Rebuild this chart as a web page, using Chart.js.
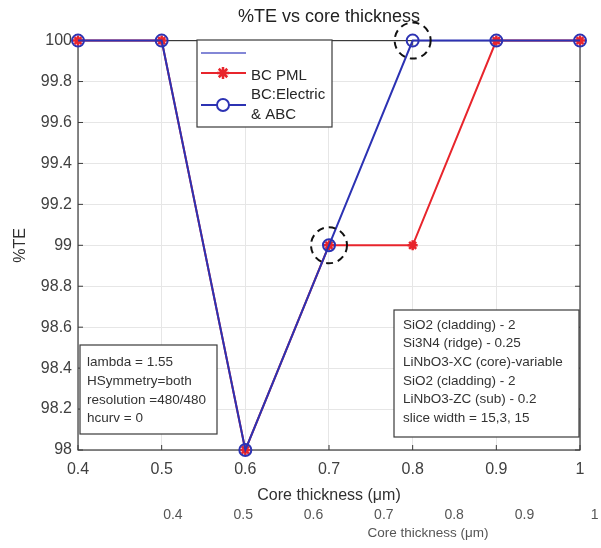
<!DOCTYPE html>
<html>
<head>
<meta charset="utf-8">
<script src="https://cdn.jsdelivr.net/npm/chart.js@4.4.0/dist/chart.umd.min.js"></script>
<style>
  html, body { margin: 0; padding: 0; background: #fff; }
  #wrap { position: relative; width: 601px; height: 548px; }
</style>
</head>
<body>
<div id="wrap"><canvas id="te-chart" width="601" height="548"></canvas></div>
<script>
// values
var thickness = [0.4, 0.5, 0.6, 0.7, 0.8, 0.9, 1.0];
var tePML = [100, 100, 98, 99, 99, 100, 100];
var teElectric = [100, 100, 98, 99, 100, 100, 100];

var xTicks = [0.4, 0.5, 0.6, 0.7, 0.8, 0.9, 1.0];
var yTicks = [98, 98.2, 98.4, 98.6, 98.8, 99, 99.2, 99.4, 99.6, 99.8, 100];
// the second (shifted) x axis printed under the plot
var x2Ticks = [0.4, 0.5, 0.6, 0.7, 0.8, 0.9, 1.0];

// points marked with dashed circles
var circledX = [0.7, 0.8];
var circledY = [99, 100];

var leftNote = ["lambda = 1.55", "HSymmetry=both", "resolution =480/480", "hcurv = 0"];
var rightNote = [
  "SiO2 (cladding) - 2",
  "Si3N4 (ridge) - 0.25",
  "LiNbO3-XC (core)-variable",
  "SiO2 (cladding) - 2",
  "LiNbO3-ZC (sub) - 0.2",
  "slice width = 15,3, 15"
];

var FONT = '"Liberation Sans", Arial, Helvetica, sans-serif';
var RED = "#e8252c";
var BLUE = "#2c32b3";

function fmt(v) {
  return String(Math.round(v * 10) / 10);
}

function toPoints(xs, ys) {
  return xs.map(function (x, i) { return { x: x, y: ys[i] }; });
}

function drawStar(ctx, x, y, r) {
  ctx.beginPath();
  for (var k = 0; k < 4; k++) {
    var a = k * Math.PI / 4;
    ctx.moveTo(x - r * Math.cos(a), y - r * Math.sin(a));
    ctx.lineTo(x + r * Math.cos(a), y + r * Math.sin(a));
  }
  ctx.stroke();
}

var overlay = {
  id: "overlay",
  beforeDatasetsDraw: function (chart) {
    var ctx = chart.ctx, a = chart.chartArea;
    var xs = chart.scales.x, ys = chart.scales.y;
    ctx.save();
    ctx.strokeStyle = "#3a3a3a";
    ctx.lineWidth = 1.2;
    ctx.strokeRect(a.left, a.top, a.right - a.left, a.bottom - a.top);
    // matlab style inner tick marks
    ctx.lineWidth = 1;
    ctx.beginPath();
    xTicks.forEach(function (v) {
      var px = xs.getPixelForValue(v);
      ctx.moveTo(px, a.bottom); ctx.lineTo(px, a.bottom - 5);
      ctx.moveTo(px, a.top); ctx.lineTo(px, a.top + 5);
    });
    yTicks.forEach(function (v) {
      var py = ys.getPixelForValue(v);
      ctx.moveTo(a.left, py); ctx.lineTo(a.left + 5, py);
      ctx.moveTo(a.right, py); ctx.lineTo(a.right - 5, py);
    });
    ctx.stroke();
    ctx.restore();
  },
  afterDatasetsDraw: function (chart) {
    var ctx = chart.ctx;
    var xs = chart.scales.x, ys = chart.scales.y, x2 = chart.scales.x2;
    ctx.save();

    // dashed circles
    ctx.strokeStyle = "#111";
    ctx.lineWidth = 2;
    ctx.setLineDash([7, 5]);
    circledX.forEach(function (v, i) {
      ctx.beginPath();
      ctx.arc(xs.getPixelForValue(v), ys.getPixelForValue(circledY[i]), 18, 0, Math.PI * 2);
      ctx.stroke();
    });
    ctx.setLineDash([]);

    // note boxes
    ctx.font = "13.5px " + FONT;
    ctx.textBaseline = "middle";
    ctx.textAlign = "left";
    ctx.fillStyle = "#fff";
    ctx.fillRect(80, 345, 137, 89);
    ctx.fillRect(394, 310, 185, 127);
    ctx.strokeStyle = "#3a3a3a";
    ctx.lineWidth = 1.2;
    ctx.strokeRect(80, 345, 137, 89);
    ctx.strokeRect(394, 310, 185, 127);
    ctx.fillStyle = "#333";
    leftNote.forEach(function (t, i) { ctx.fillText(t, 87, 362 + i * 18.9); });
    rightNote.forEach(function (t, i) { ctx.fillText(t, 403, 325 + i * 18.65); });

    // legend
    ctx.fillStyle = "#fff";
    ctx.fillRect(197, 40, 135, 87);
    ctx.strokeRect(197, 40, 135, 87);
    ctx.strokeStyle = "#5a5fc8";
    ctx.lineWidth = 1.5;
    ctx.beginPath(); ctx.moveTo(201, 53); ctx.lineTo(246, 53); ctx.stroke();
    ctx.strokeStyle = RED;
    ctx.lineWidth = 2;
    ctx.beginPath(); ctx.moveTo(201, 73); ctx.lineTo(246, 73); ctx.stroke();
    ctx.lineWidth = 2.5;
    drawStar(ctx, 223, 73, 6);
    ctx.strokeStyle = BLUE;
    ctx.lineWidth = 2;
    ctx.beginPath(); ctx.moveTo(201, 105); ctx.lineTo(246, 105); ctx.stroke();
    ctx.fillStyle = "#fff";
    ctx.beginPath(); ctx.arc(223, 105, 6, 0, Math.PI * 2); ctx.fill(); ctx.stroke();
    ctx.fillStyle = "#262626";
    ctx.font = "15px " + FONT;
    ctx.fillText("BC PML", 251, 76);
    ctx.fillText("BC:Electric", 251, 95);
    ctx.fillText("& ABC", 251, 115);

    // second x axis labels
    ctx.fillStyle = "#555";
    ctx.textAlign = "center";
    ctx.font = "14px " + FONT;
    x2Ticks.forEach(function (v) {
      ctx.fillText(fmt(v), x2.getPixelForValue(v), 515);
    });
    ctx.font = "13.5px " + FONT;
    ctx.fillText("Core thickness (\u03bcm)", 428, 533);

    ctx.restore();
  }
};

var config = {
  type: "line",
  data: {
    datasets: [
      {
        label: "BC PML",
        data: toPoints(thickness, tePML),
        borderColor: RED,
        backgroundColor: RED,
        borderWidth: 2,
        pointStyle: "star",
        pointRadius: 5,
        pointBorderWidth: 2.5,
        clip: false,
        order: 2
      },
      {
        label: "BC:Electric & ABC",
        data: toPoints(thickness, teElectric),
        borderColor: BLUE,
        backgroundColor: "rgba(0,0,0,0)",
        borderWidth: 2,
        pointStyle: "circle",
        pointRadius: 6,
        pointBorderWidth: 2,
        clip: false,
        order: 1
      }
    ]
  },
  options: {
    responsive: false,
    animation: false,
    devicePixelRatio: 1,
    layout: { padding: { left: 0, right: 21, top: 0, bottom: 38 } },
    plugins: {
      legend: { display: false },
      tooltip: { enabled: false },
      title: {
        display: true,
        text: "%TE vs core thickness",
        fullSize: false,
        color: "#222",
        font: { family: FONT, size: 18, weight: "normal" },
        padding: { top: 6, bottom: 13 }
      }
    },
    scales: {
      x: {
        type: "linear",
        min: 0.4,
        max: 1,
        afterBuildTicks: function (s) { s.ticks = xTicks.map(function (v) { return { value: v }; }); },
        afterFit: function (s) { s.height = 60; },
        grid: { color: "#e6e6e6", drawTicks: false },
        border: { display: false },
        ticks: {
          padding: 10, color: "#404040", maxRotation: 0, autoSkip: false,
          font: { family: FONT, size: 16 },
          callback: function (v) { return fmt(v); }
        },
        title: {
          display: true, text: "Core thickness (\u03bcm)", color: "#303030",
          font: { family: FONT, size: 16 }, padding: { top: 0, bottom: 5 }
        }
      },
      x2: {
        type: "linear",
        display: false,
        min: 0.265,
        max: 0.979
      },
      y: {
        min: 98,
        max: 100,
        afterBuildTicks: function (s) { s.ticks = yTicks.map(function (v) { return { value: v }; }); },
        afterFit: function (s) { s.width = 78; },
        grid: { color: "#e6e6e6", drawTicks: false },
        border: { display: false },
        ticks: {
          padding: 6, color: "#404040", autoSkip: false,
          font: { family: FONT, size: 16 },
          callback: function (v) { return fmt(v); }
        },
        title: {
          display: true, text: "%TE", color: "#303030",
          font: { family: FONT, size: 16 }, padding: { top: 11, bottom: 0 }
        }
      }
    }
  },
  plugins: [overlay]
};

var myChart = new Chart(document.getElementById("te-chart"), config);
</script>
</body>
</html>
